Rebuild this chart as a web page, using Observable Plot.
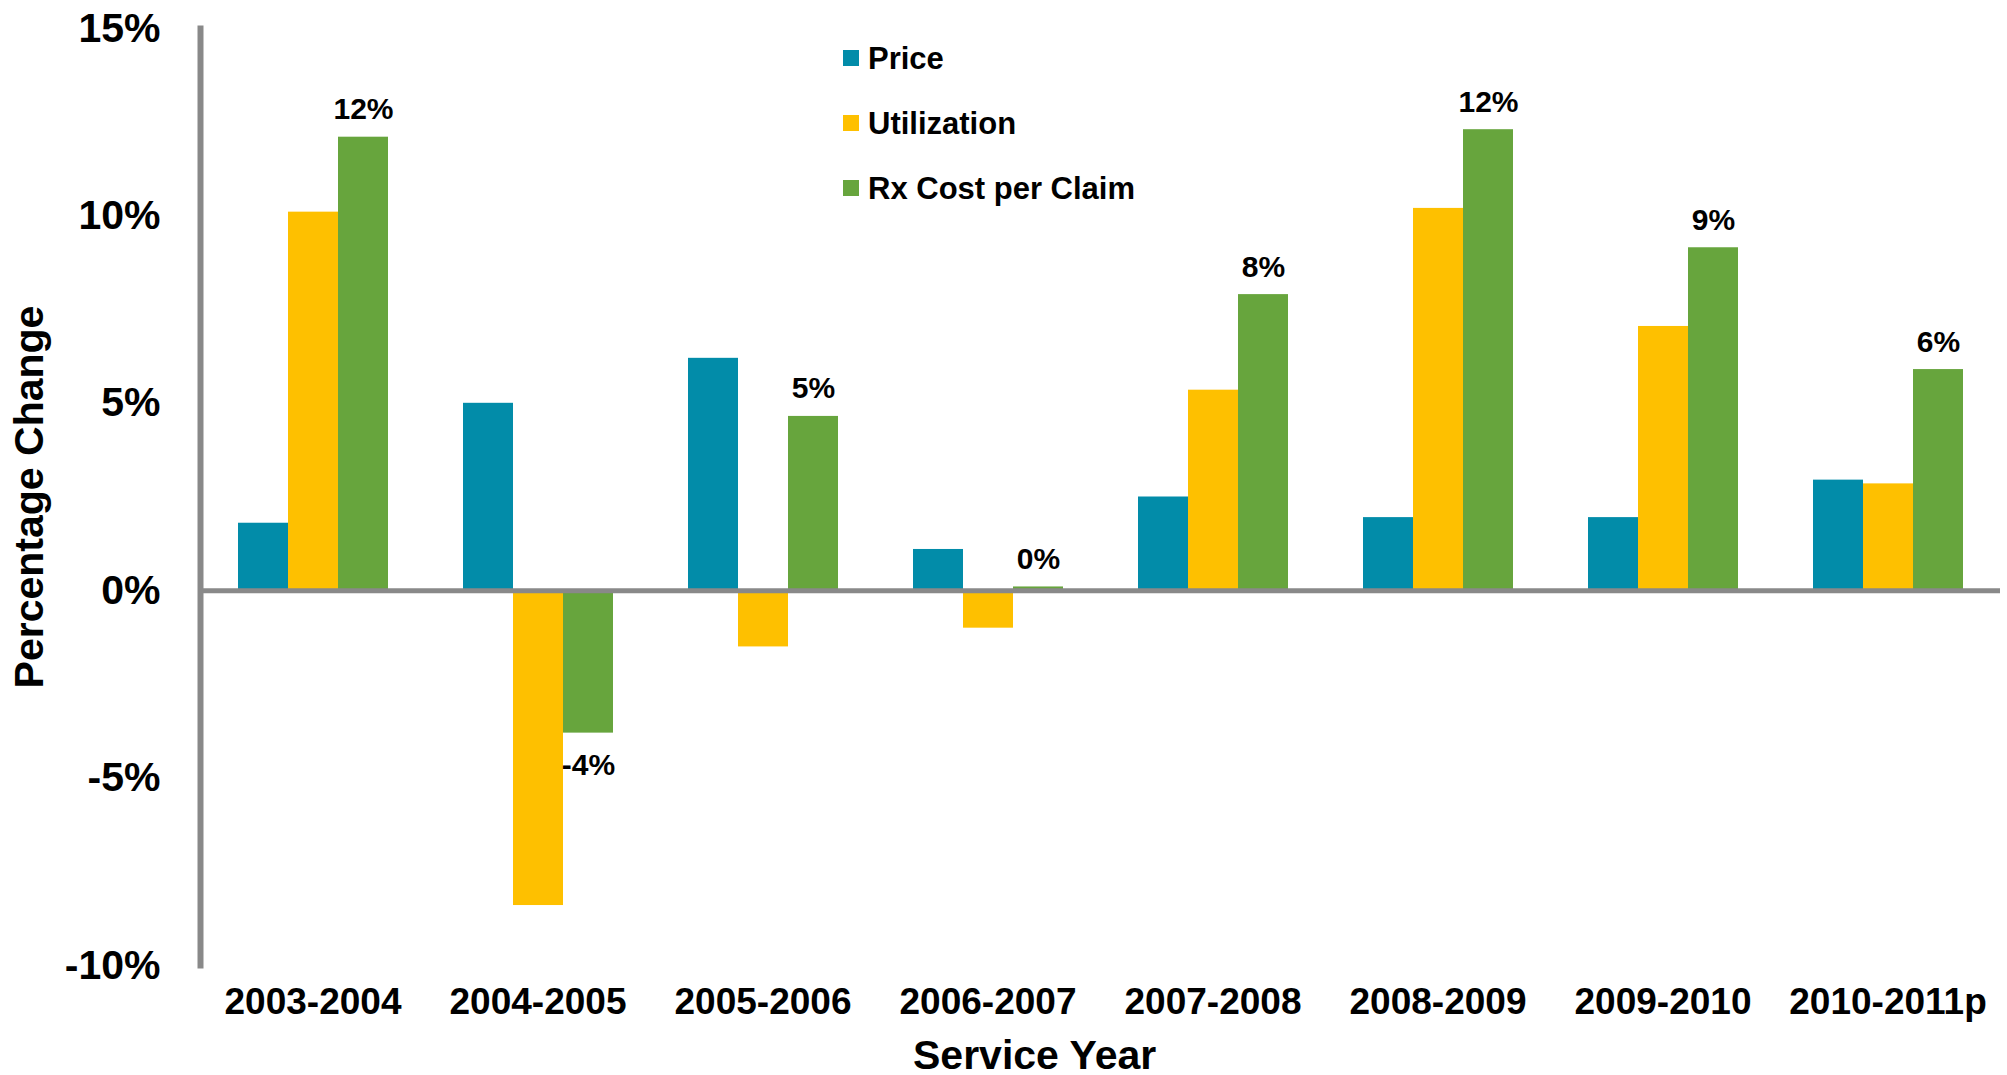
<!DOCTYPE html>
<html>
<head>
<meta charset="utf-8">
<script src="https://cdn.jsdelivr.net/npm/d3@7"></script>
<script src="https://cdn.jsdelivr.net/npm/@observablehq/plot@0.6"></script>
<style>
  html, body { margin: 0; padding: 0; background: #fff; overflow: hidden; }
  body { width: 2007px; height: 1075px; font-family: "Liberation Sans", Arial, sans-serif; }
  #wrap { position: relative; width: 2007px; height: 1075px; }
  #legend { position: absolute; left: 843px; top: 25.5px; font-weight: bold; font-size: 31px; color: #000; }
  #legend .row { display: flex; align-items: center; height: 65px; line-height: 1; }
  #legend .sw { width: 16px; height: 16px; margin-right: 9px; }
  #caption { position: absolute; left: 0; top: 1036px; width: 2007px; font-weight: bold; font-size: 41px; line-height: 38px; padding-left: 913px; box-sizing: border-box; color: #000; }
</style>
</head>
<body>
<div id="wrap"></div>
<script>
// ---- data ----
const categories = ["2003-2004", "2004-2005", "2005-2006", "2006-2007", "2007-2008", "2008-2009", "2009-2010", "2010-2011p"];
const seriesNames = ["Price", "Utilization", "Rx Cost per Claim"];
const price = [1.8, 5.0, 6.2, 1.1, 2.5, 1.95, 1.95, 2.95];
const utilization = [10.1, -8.4, -1.5, -1.0, 5.35, 10.2, 7.05, 2.85];
const rxCost = [12.1, -3.8, 4.65, 0.1, 7.9, 12.3, 9.15, 5.9];
const yTicks = [-10, -5, 0, 5, 10, 15];
const colors = ["#028CA9", "#FEC000", "#67A53D"];
const axisGray = "#898989";

const seriesValues = [price, utilization, rxCost];
const rows = [];
categories.forEach((c, i) => {
  seriesNames.forEach((s, j) => rows.push({year: c, series: s, value: seriesValues[j][i]}));
});
const rxRows = rows.filter(d => d.series === "Rx Cost per Claim");

const chart = Plot.plot({
  width: 2007,
  height: 1032,
  marginLeft: 199,
  marginRight: 6,
  marginTop: 28,
  marginBottom: 67,
  style: {fontFamily: "'Liberation Sans', Arial, sans-serif", fontWeight: "bold", color: "#000", background: "#fff"},
  fx: {domain: categories, paddingInner: 0, paddingOuter: 0, label: null},
  x: {domain: seriesNames, paddingInner: 0, paddingOuter: 0.75, axis: null},
  y: {domain: [-10, 15]},
  color: {domain: seriesNames, range: colors},
  marks: [
    Plot.barY(rows, {fx: "year", x: "series", y: "value", fill: "series"}),
    Plot.ruleY([0], {stroke: axisGray, strokeWidth: 5}),
    Plot.frame({anchor: "left", facetAnchor: "left", stroke: axisGray, strokeWidth: 6}),
    Plot.text(rxRows.filter(d => d.value >= 0), {
      fx: "year", x: "series", y: "value",
      text: d => `${Math.round(d.value)}%`,
      lineAnchor: "bottom", dy: -18, fontSize: 30, fontWeight: "bold", fill: "#000"
    }),
    Plot.text(rxRows.filter(d => d.value < 0), {
      fx: "year", x: "series", y: "value",
      text: d => `${Math.round(d.value)}%`,
      lineAnchor: "top", dy: 21, fontSize: 30, fontWeight: "bold", fill: "#000"
    }),
    Plot.axisY({
      ticks: yTicks, tickFormat: d => `${d}%`, tickSize: 0, tickPadding: 40,
      fontSize: 41, fontWeight: "bold",
      label: "Percentage Change", labelAnchor: "center", labelOffset: 187, labelArrow: false
    }),
    Plot.axisFx({
      anchor: "bottom", tickSize: 0, tickPadding: 22, fontSize: 37, fontWeight: "bold", label: null
    })
  ]
});

const wrap = document.getElementById("wrap");
wrap.appendChild(chart);

const legend = document.createElement("div");
legend.id = "legend";
seriesNames.forEach((s, j) => {
  const row = document.createElement("div");
  row.className = "row";
  const sw = document.createElement("span");
  sw.className = "sw";
  sw.style.background = colors[j];
  const t = document.createElement("span");
  t.textContent = s;
  row.appendChild(sw);
  row.appendChild(t);
  legend.appendChild(row);
});
wrap.appendChild(legend);

const caption = document.createElement("div");
caption.id = "caption";
caption.textContent = "Service Year";
wrap.appendChild(caption);
</script>
</body>
</html>
